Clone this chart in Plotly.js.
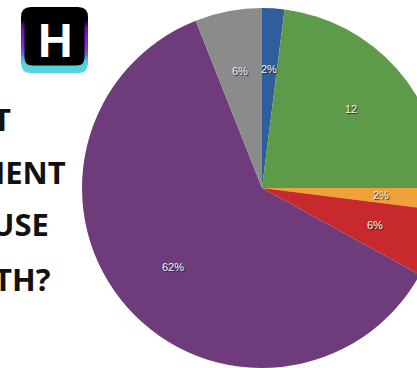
<!DOCTYPE html>
<html>
<head>
<meta charset="utf-8">
<script src="https://cdn.plot.ly/plotly-3.0.1.min.js"></script>
<style>
html,body{margin:0;padding:0;overflow:hidden;background:#fff;width:417px;height:368px;}
#chart{width:460px;height:380px;}
</style>
</head>
<body>
<div id="chart"></div>
<script>
// Data (clockwise from 12 o'clock)
var sliceValues = [2, 23, 2, 6, 61, 6];
var sliceLabels = ['Blue', 'Green', 'Orange', 'Red', 'Purple', 'Grey'];
var sliceTexts = ['2%', '12', '2%', '6%', '62%', '6%'];
var sliceColors = ['#2f5e9d', '#5d9a49', '#f0a23a', '#c8292c', '#6f3c7b', '#8b8b8b'];
var headingLines = ['T', 'IENT', 'USE', 'TH?'];

var W = 460, H = 380;
function px(x){ return x / W; }
function py(y){ return 1 - y / H; }

// pie geometry (pixels)
var cx = 262, cy = 188, R = 180;

var trace = {
  type: 'pie',
  values: sliceValues,
  labels: sliceLabels,
  sort: false,
  direction: 'clockwise',
  rotation: 0,
  textinfo: 'none',
  hoverinfo: 'label+percent',
  marker: {colors: sliceColors, line: {width: 0}},
  domain: {x: [px(cx - R), px(cx + R)], y: [py(cy + R), py(cy - R)]},
  showlegend: false
};

var annotations = [];
// slice labels computed from values
var total = sliceValues.reduce(function(a, b){ return a + b; }, 0);
var cum = 0;
for (var i = 0; i < sliceValues.length; i++) {
  var mid = (cum + sliceValues[i] / 2) / total * 2 * Math.PI;
  cum += sliceValues[i];
  var r = 0.66 * R;
  annotations.push({
    xref: 'paper', yref: 'paper',
    x: px(cx + r * Math.sin(mid)), y: py(cy - r * Math.cos(mid)),
    xanchor: 'center', yanchor: 'middle',
    text: sliceTexts[i], showarrow: false,
    font: {family: 'Liberation Sans', size: 11, color: '#f4f4f4', shadow: '1px 1px 1px #222'}
  });
}

// heading lines (cropped on the left)
var headRight = [12, 67, 50, 52];
var headBase = [130, 183, 235, 290];
for (var j = 0; j < headingLines.length; j++) {
  annotations.push({
    xref: 'paper', yref: 'paper',
    x: px(headRight[j] + 1), y: py(headBase[j] - 11),
    xanchor: 'right', yanchor: 'middle',
    text: headingLines[j], showarrow: false,
    font: {family: 'Open Sans', size: 31, color: '#111111', weight: 700}
  });
}

// logo letter
annotations.push({
  xref: 'paper', yref: 'paper',
  x: px(55), y: py(40), xanchor: 'center', yanchor: 'middle',
  text: 'H', showarrow: false,
  font: {family: 'Liberation Sans', size: 48, color: '#ffffff', weight: 700}
});

// logo shapes
function rrect(x0, y0, x1, y1, rad, top, bottom) {
  var p = 'M' + px(x0 + (top ? rad : 0)) + ',' + py(y0);
  p += ' L' + px(x1 - (top ? rad : 0)) + ',' + py(y0);
  if (top) p += ' Q' + px(x1) + ',' + py(y0) + ' ' + px(x1) + ',' + py(y0 + rad);
  p += ' L' + px(x1) + ',' + py(y1 - (bottom ? rad : 0));
  if (bottom) p += ' Q' + px(x1) + ',' + py(y1) + ' ' + px(x1 - rad) + ',' + py(y1);
  p += ' L' + px(x0 + (bottom ? rad : 0)) + ',' + py(y1);
  if (bottom) p += ' Q' + px(x0) + ',' + py(y1) + ' ' + px(x0) + ',' + py(y1 - rad);
  p += ' L' + px(x0) + ',' + py(y0 + (top ? rad : 0));
  if (top) p += ' Q' + px(x0) + ',' + py(y0) + ' ' + px(x0 + rad) + ',' + py(y0);
  return p + ' Z';
}
var shapes = [];
var lx0 = 21, lx1 = 88, ly0 = 7, ly1 = 73;
shapes.push({type: 'path', xref: 'paper', yref: 'paper', path: rrect(lx0, ly0, lx1, 18, 10, true, false), fillcolor: '#000000', line: {width: 0}, layer: 'above'});
var stops = [[18, [0,0,0]], [28, [110,20,170]], [42, [130,30,215]], [52, [100,90,210]], [60, [80,200,220]], [64, [85,210,220]]];
for (var y = 18; y < 64; y += 2) {
  var c = [0,0,0];
  for (var s = 0; s < stops.length - 1; s++) {
    if (y >= stops[s][0] && y <= stops[s+1][0]) {
      var t = (y - stops[s][0]) / (stops[s+1][0] - stops[s][0]);
      for (var k = 0; k < 3; k++) c[k] = Math.round(stops[s][1][k] + t * (stops[s+1][1][k] - stops[s][1][k]));
    }
  }
  shapes.push({type: 'rect', xref: 'paper', yref: 'paper', x0: px(lx0), x1: px(lx1), y0: py(y + 2.2), y1: py(y), fillcolor: 'rgb(' + c.join(',') + ')', line: {width: 0}, layer: 'above'});
}
shapes.push({type: 'path', xref: 'paper', yref: 'paper', path: rrect(lx0, 64, lx1, ly1, 10, false, true), fillcolor: '#58d2dc', line: {width: 0}, layer: 'above'});
shapes.push({type: 'path', xref: 'paper', yref: 'paper', path: rrect(24.5, 8, 84.5, 65.5, 8, true, true), fillcolor: '#000000', line: {width: 0}, layer: 'above'});

var layout = {
  width: W, height: H,
  margin: {l: 0, r: 0, t: 0, b: 0},
  paper_bgcolor: '#ffffff',
  showlegend: false,
  annotations: annotations,
  shapes: shapes
};

Plotly.newPlot('chart', [trace], layout, {displayModeBar: false, staticPlot: true});
</script>
</body>
</html>
